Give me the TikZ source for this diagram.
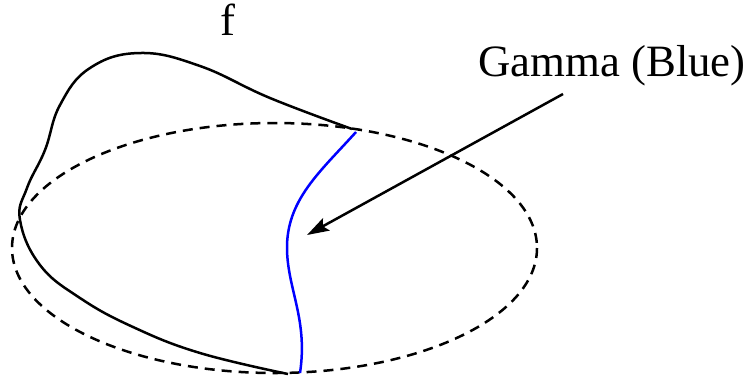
\documentclass[tikz,border=0pt]{standalone}
\usepackage{fontspec}
\setmainfont{Liberation Serif}
\usetikzlibrary{arrows.meta}

\begin{document}
\begin{tikzpicture}[x=0.5pt, y=-0.5pt, >={Stealth[length=11pt,width=7pt,inset=2pt]},
    lbl/.style={font=\fontsize{22.4}{26}\selectfont, inner sep=0pt}]

\useasboundingbox (0,0) rectangle (749,381);

% Base ellipse (dashed)
\draw[dashed, dash pattern=on 5pt off 3.5pt, line width=1.25pt] (274.5,248) ellipse [x radius=262.5, y radius=125];

% Graph of f over the left part
\draw[line width=1.25pt] plot[smooth, tension=0.7] coordinates {
    (288,374) (200,353) (133,327) (80,298) (40,265)
    (20,220) (27,188) (45,150) (60,105)
    (90,68) (140,53) (200,66) (270,98) (352,129)};

% Gamma curve
\draw[blue, line width=1.25pt] (356,132) .. controls (320,172) and (286,200) .. (287,250)
    .. controls (288,290) and (308,320) .. (300,373);

% Labels
\node[lbl] (f) at (228,20) {f};
\node[lbl] (gamma) at (612,66) {Gamma (Blue)};

% Pointer to Gamma
\coordinate (arrowstart) at (563,94);
\coordinate (arrowend) at (307,235);
\draw[->, line width=1.25pt] (arrowstart) -- (arrowend);

\end{tikzpicture}
\end{document}
